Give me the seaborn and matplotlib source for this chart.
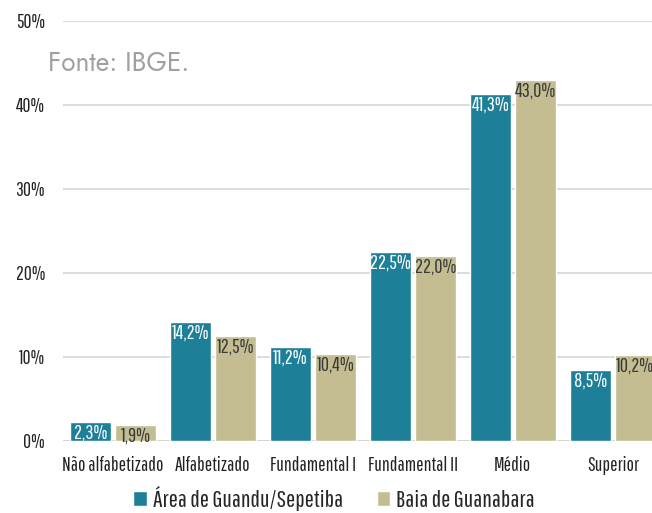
import matplotlib
matplotlib.use("Agg")
import matplotlib.pyplot as plt
import seaborn as sns
import pandas as pd

categorias = ["Não alfabetizado", "Alfabetizado", "Fundamental I",
              "Fundamental II", "Médio", "Superior"]
guandu = [2.3, 14.2, 11.2, 22.5, 41.3, 8.5]
guanabara = [1.9, 12.5, 10.4, 22.0, 43.0, 10.2]
series = ["Área de Guandu/Sepetiba", "Baia de Guanabara"]

sns.set_style("white")
plt.rcParams["font.family"] = ["Pathway Gothic One", "DejaVu Sans"]

df = pd.DataFrame({
    "categoria": categorias * 2,
    "valor": guandu + guanabara,
    "serie": [series[0]] * 6 + [series[1]] * 6,
})

cores = {series[0]: "#1e7f99", series[1]: "#c4bd91"}

fig = plt.figure(figsize=(6.52, 5.13), dpi=100)
ax = fig.add_axes([0.0966, 0.1404, 0.920, 0.8187])
for y in range(10, 51, 10):
    ax.axhline(y, color="#dcdcdc", lw=1.5, zorder=0)

sns.barplot(data=df, x="categoria", y="valor", hue="serie", palette=cores,
            width=0.9, gap=0.1, ax=ax, zorder=2, saturation=1)

for cont, cor_txt in zip(ax.containers, ["white", "#3a3a3a"]):
    for bar in cont:
        h = bar.get_height()
        ax.text(bar.get_x() + bar.get_width() / 2, h - 0.2,
                f"{h:.1f}%".replace(".", ","), ha="center", va="top",
                color=cor_txt, fontsize=14.5, zorder=3)

ax.axhline(0, color="#d0d0d0", lw=2, zorder=1)
ax.set_ylim(0, 50)
ax.set_xlim(-0.5, 5.5)
ax.set_yticks(range(0, 51, 10))
ax.set_yticklabels([f"{v}%" for v in range(0, 51, 10)], fontsize=14, color="#222222")
ax.tick_params(axis="x", labelsize=14, colors="#222222", length=0, pad=11)
ax.tick_params(axis="y", length=0, pad=13)
ax.set_xlabel("")
ax.set_ylabel("")
sns.despine(ax=ax, left=True, bottom=True)

ax.legend(loc="lower center", bbox_to_anchor=(0.452, -0.19), ncol=2, frameon=False,
          fontsize=17.5, handlelength=0.55, handleheight=0.55, handletextpad=0.25,
          columnspacing=1.4, borderaxespad=0)

fig.text(0.074, 0.862, "Fonte: IBGE.", fontsize=19, color="#a0a0a0",
         family="Jost", weight=300)

fig.savefig("out.png", dpi=100)
